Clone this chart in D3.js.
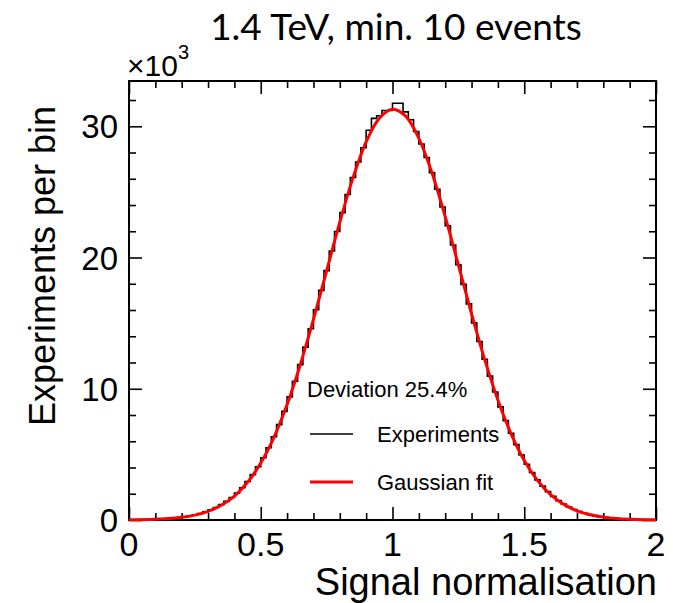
<!DOCTYPE html>
<html>
<head>
<meta charset="utf-8">
<script src="https://cdn.jsdelivr.net/npm/d3@7"></script>
<style>
  body { margin: 0; background: #fff; }
  text { font-family: "Liberation Sans", Arial, sans-serif; }
</style>
</head>
<body>
<div id="diagram"></div>
<script>
// histogram: 100 bins of 0.02 between 0 and 2, counts in thousands
const binEdges = d3.range(0, 101).map(i => +(i * 0.02).toFixed(2));
const experiments = [
  0.02, 0.02, 0.03, 0.04, 0.05, 0.06, 0.08, 0.11, 0.14, 0.18,
  0.25, 0.31, 0.39, 0.49, 0.62, 0.77, 0.95, 1.17, 1.42, 1.72,
  2.06, 2.46, 2.93, 3.46, 4.06, 4.74, 5.50, 6.34, 7.27, 8.28,
  9.38, 10.57, 11.84, 13.17, 14.57, 16.02, 17.50, 19.00, 20.50, 21.98,
  23.42, 24.80, 26.10, 27.28, 28.36, 29.70, 30.60, 30.80, 31.20, 31.20,
  31.75, 31.75, 31.10, 30.50, 29.60, 28.65, 27.62, 26.47, 25.20, 23.85,
  22.42, 20.95, 19.45, 17.95, 16.47, 15.02, 13.60, 12.25, 10.96, 9.75,
  8.62, 7.57, 6.61, 5.74, 4.95, 4.25, 3.62, 3.06, 2.58, 2.16,
  1.80, 1.48, 1.22, 0.99, 0.80, 0.65, 0.52, 0.41, 0.33, 0.26,
  0.20, 0.16, 0.12, 0.09, 0.07, 0.05, 0.04, 0.03, 0.02, 0.02
];

// gaussian fit, read every 0.05
const fitX = [0, 0.05, 0.1, 0.15, 0.2, 0.25, 0.3, 0.35, 0.4, 0.45,
  0.5, 0.55, 0.6, 0.65, 0.7, 0.75, 0.8, 0.85, 0.9, 0.95,
  1.0, 1.05, 1.1, 1.15, 1.2, 1.25, 1.3, 1.35, 1.4, 1.45,
  1.5, 1.55, 1.6, 1.65, 1.7, 1.75, 1.8, 1.85, 1.9, 1.95, 2.0];
const fitY = [0.012, 0.026, 0.054, 0.106, 0.203, 0.373, 0.659, 1.119, 1.827, 2.871,
  4.335, 6.301, 8.80, 11.83, 15.28, 18.98, 22.69, 26.07, 28.81, 30.62,
  31.30, 30.77, 29.08, 26.44, 23.11, 19.43, 15.71, 12.22, 9.14, 6.57,
  4.54, 3.02, 1.93, 1.19, 0.703, 0.40, 0.219, 0.115, 0.058, 0.028, 0.013];

const xTicks = [0, 0.5, 1, 1.5, 2];
const xTickLabels = ["0", "0.5", "1", "1.5", "2"];
const yTicks = [0, 10, 20, 30];

var margin = {top: 81, right: 17, bottom: 83, left: 129},
    width = 673 - margin.left - margin.right,
    height = 603 - margin.top - margin.bottom;

var svg = d3.select("#diagram")
  .append("svg")
  .attr("width", 673)
  .attr("height", 603);

var g = svg.append("g")
  .attr("transform", "translate(" + margin.left + "," + margin.top + ")");

var x = d3.scaleLinear().domain([0, 2]).range([0, width]);
var y = d3.scaleLinear().domain([0, 33.45]).range([height, 0]);

var xMinor = d3.range(0, 21).map(i => +(i * 0.1).toFixed(1));
var yMinor = d3.range(0, 17).map(i => i * 2);

// ticks on all four sides, pointing in; majors longer
var tickCfg = [
  {axis: d3.axisBottom(x), tr: "translate(0," + height + ")", vals: xMinor, major: xTicks},
  {axis: d3.axisTop(x), tr: "translate(0,0)", vals: xMinor, major: xTicks},
  {axis: d3.axisLeft(y), tr: "translate(0,0)", vals: yMinor, major: yTicks},
  {axis: d3.axisRight(y), tr: "translate(" + width + ",0)", vals: yMinor, major: yTicks}
];
tickCfg.forEach(c => {
  var a = g.append("g").attr("transform", c.tr)
    .call(c.axis.tickValues(c.vals).tickSizeInner(-7).tickSizeOuter(0).tickFormat(""));
  a.selectAll(".tick line")
    .attr("stroke-width", 1.6)
    .filter(d => c.major.some(m => Math.abs(m - d) < 1e-9))
    .each(function() {
      var l = d3.select(this);
      if (l.attr("x2") != null && +l.attr("x2") !== 0) l.attr("x2", +l.attr("x2") * 13 / 7);
      if (l.attr("y2") != null && +l.attr("y2") !== 0) l.attr("y2", +l.attr("y2") * 13 / 7);
    });
  a.select(".domain").remove();
});

// frame
g.append("rect")
  .attr("width", width).attr("height", height)
  .attr("fill", "none").attr("stroke", "#000").attr("stroke-width", 2);

// tick labels
g.selectAll(".xlab").data(xTicks).enter().append("text")
  .attr("x", d => x(d)).attr("y", height + 36)
  .attr("text-anchor", "middle")
  .style("font-size", "34px")
  .text((d, i) => xTickLabels[i]);

g.selectAll(".ylab").data(yTicks).enter().append("text")
  .attr("x", -11).attr("y", d => y(d) + 12)
  .attr("text-anchor", "end")
  .style("font-size", "33px")
  .text(d => d);

// x10^3
var mult = svg.append("text").attr("x", 127).attr("y", 76).style("font-size", "30px");
mult.append("tspan").text("\u00d710");
mult.append("tspan").attr("dy", -17).style("font-size", "20px").text("3");

// histogram step line
var histPts = experiments.map((v, i) => [binEdges[i], v]);
histPts.push([binEdges[100], experiments[99]]);
g.append("path")
  .datum(histPts)
  .attr("fill", "none")
  .attr("stroke", "#000")
  .attr("stroke-width", 1.6)
  .attr("d", d3.line().x(d => x(d[0])).y(d => y(d[1])).curve(d3.curveStepAfter));

// gaussian fit
g.append("path")
  .datum(fitX.map((v, i) => [v, fitY[i]]))
  .attr("fill", "none")
  .attr("stroke", "#ff0000")
  .attr("stroke-width", 3)
  .attr("d", d3.line().x(d => x(d[0])).y(d => y(d[1])).curve(d3.curveCatmullRom));

// legend
svg.append("text").attr("x", 307).attr("y", 397).style("font-size", "22px").text("Deviation 25.4%");
svg.append("line").attr("x1", 310).attr("x2", 353).attr("y1", 434).attr("y2", 434)
  .attr("stroke", "#000").attr("stroke-width", 1.6);
svg.append("text").attr("x", 377).attr("y", 442).style("font-size", "22px").text("Experiments");
svg.append("line").attr("x1", 310).attr("x2", 353).attr("y1", 482).attr("y2", 482)
  .attr("stroke", "#ff0000").attr("stroke-width", 3);
svg.append("text").attr("x", 377).attr("y", 490).style("font-size", "22px").text("Gaussian fit");

// axis titles
svg.append("text")
  .attr("x", 657).attr("y", 595)
  .attr("text-anchor", "end")
  .style("font-size", "38px")
  .text("Signal normalisation");

svg.append("text")
  .attr("transform", "translate(55,266) rotate(-90)")
  .attr("text-anchor", "middle")
  .style("font-size", "36px")
  .text("Experiments per bin");

// title
svg.append("text")
  .attr("x", 396).attr("y", 40)
  .attr("text-anchor", "middle")
  .style("font-family", "Lato, 'Open Sans', sans-serif")
  .style("font-size", "37px")
  .text("1.4 TeV, min. 10 events");
</script>
</body>
</html>
